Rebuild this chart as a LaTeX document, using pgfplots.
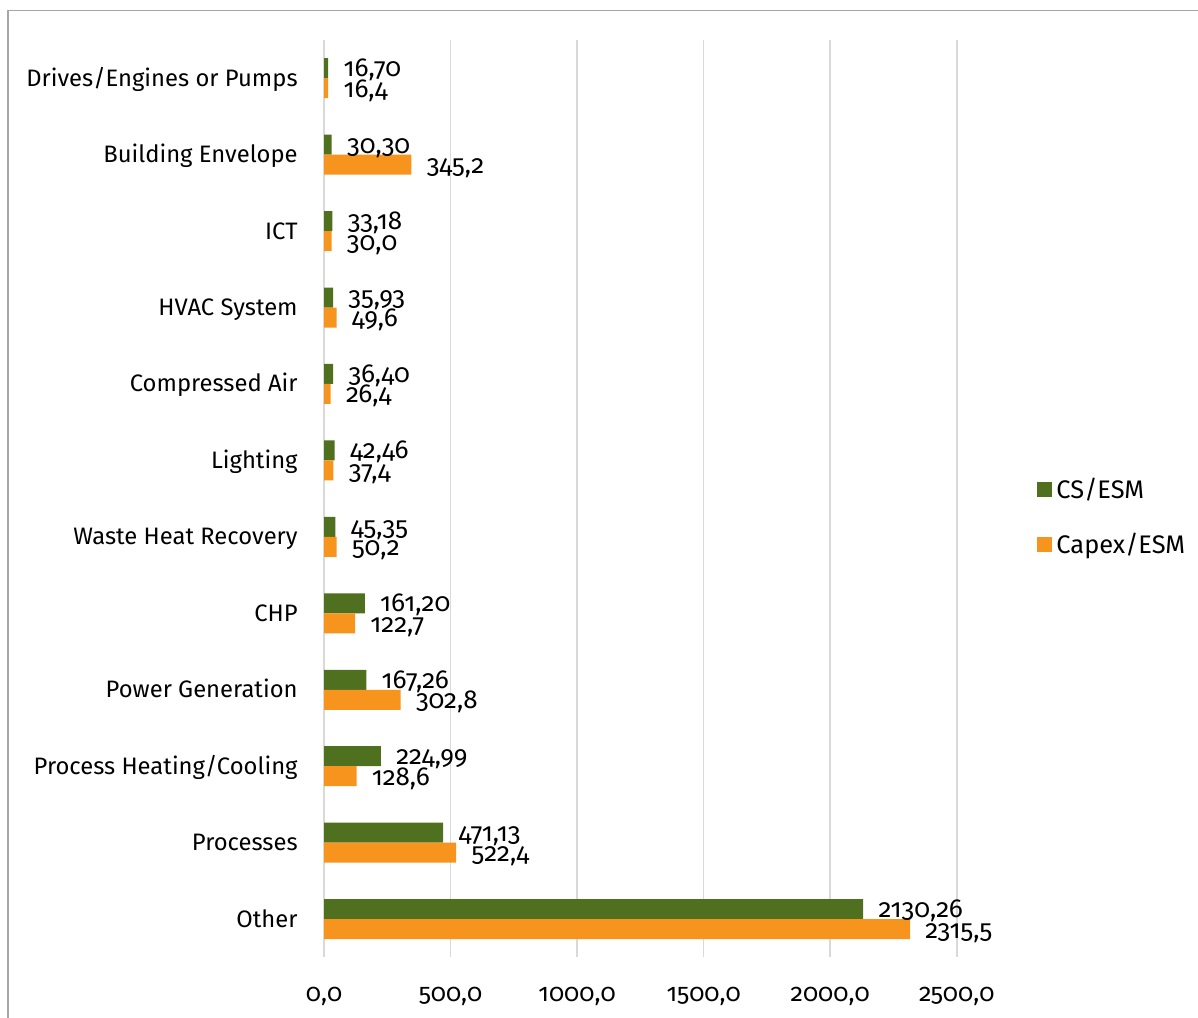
\documentclass[border=0pt]{standalone}
\usepackage{fontspec}
\setmainfont{Fira Sans}[Numbers=OldStyle]
\usepackage{pgfplots}
\pgfplotsset{compat=1.18}

\definecolor{csgreen}{RGB}{79,112,31}
\definecolor{capexorange}{RGB}{247,148,30}
\definecolor{gridgray}{RGB}{217,217,217}
\definecolor{framegray}{RGB}{166,166,166}

\begin{document}
\begin{tikzpicture}[font=\fontsize{12}{14.5}\selectfont]
\useasboundingbox (0,0) rectangle (599pt,-508.5pt);
% outer chart frame
\draw[line width=0.85pt, framegray] (4pt,-520pt) -- (4pt,-5.3pt) -- (610pt,-5.3pt);
\begin{axis}[
  at={(162pt,-20pt)}, anchor=north west,
  scale only axis, width=316.35pt, height=458.65pt,
  xbar, bar width=10pt,
  xmin=0, xmax=2500, ymin=-0.5, ymax=11.5,
  clip=false,
  xtick={0,500,...,2500},
  ytick={0,...,11},
  yticklabels={Other, Processes, Process Heating/Cooling, Power Generation, CHP,
    Waste Heat Recovery, Lighting, Compressed Air, HVAC System, ICT,
    Building Envelope, Drives/Engines or Pumps},
  axis line style={draw=none},
  major tick length=0pt,
  xmajorgrids, grid style={line width=0.8pt, gridgray},
  /pgf/number format/assume math mode=true,
  /pgf/number format/use comma,
  /pgf/number format/1000 sep={},
  xticklabel={\pgfmathprintnumber[fixed,fixed zerofill,precision=1]{\tick}},
  xticklabel style={anchor=base, inner sep=0pt, yshift=-22.3pt,
    font=\fontsize{12.5}{15}\selectfont},
  yticklabel style={anchor=base east, inner sep=0pt, xshift=-13pt, yshift=-4pt,
    font=\fontsize{11.9}{14.5}\selectfont},
  legend style={at={(1.127,0.48)}, anchor=west, draw=none, fill=none,
    inner sep=0pt, row sep=12pt, cells={anchor=west},
    font=\fontsize{12.7}{15}\selectfont},
  legend image code/.code={\fill[#1] (0pt,-3.75pt) rectangle (7.5pt,3.75pt);},
]
% CS/ESM
\addplot[fill=csgreen, draw=none, bar shift=5pt, point meta=x,
  nodes near coords={\pgfmathprintnumber[fixed,fixed zerofill,precision=2]{\pgfplotspointmeta}},
  every node near coord/.append style={anchor=base west, inner sep=0pt, xshift=7.5pt,
    yshift=-4.2pt, text=black, font=\fontsize{13}{15}\selectfont}]
  coordinates {(2130.26,0) (471.13,1) (224.99,2) (167.26,3) (161.20,4) (45.35,5)
    (42.46,6) (36.40,7) (35.93,8) (33.18,9) (30.30,10) (16.70,11)};
% Capex/ESM
\addplot[fill=capexorange, draw=none, bar shift=-5pt, point meta=x,
  nodes near coords={\pgfmathprintnumber[fixed,fixed zerofill,precision=1]{\pgfplotspointmeta}},
  every node near coord/.append style={anchor=base west, inner sep=0pt, xshift=7.5pt,
    yshift=-4.5pt, text=black, font=\fontsize{13}{15}\selectfont}]
  coordinates {(2315.5,0) (522.4,1) (128.6,2) (302.8,3) (122.7,4) (50.2,5)
    (37.4,6) (26.4,7) (49.6,8) (30.0,9) (345.2,10) (16.4,11)};
\legend{CS/ESM, Capex/ESM}
\end{axis}
\end{tikzpicture}
\end{document}
